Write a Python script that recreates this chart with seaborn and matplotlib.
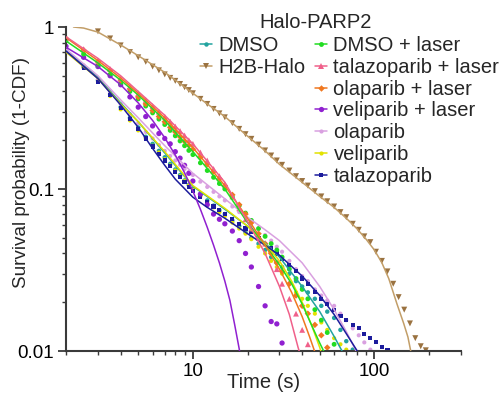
import numpy as np
import pandas as pd
import matplotlib
matplotlib.use('Agg')
import matplotlib.pyplot as plt
import seaborn as sns
from matplotlib.lines import Line2D
from matplotlib.ticker import LogLocator, NullFormatter

nan = np.nan

# time points of the measured survival curves (s)
T = [2, 2.5, 3, 3.5, 4, 4.5, 5, 5.5, 6, 6.5, 7, 7.5, 8, 8.5, 9, 9.5, 10,
     11, 12, 13, 14, 15, 16.5, 18, 19.5, 21, 23, 25, 27, 29, 31, 34, 37, 40,
     43, 47, 51, 55, 60, 65, 70, 76, 82, 88, 95, 102, 110, 118, 127, 136, 146,
     157, 168, 180, 192]

dmso = [0.72, 0.57, 0.47, 0.385, 0.32, 0.275, 0.24, 0.21, 0.19, 0.172, 0.157, 0.143, 0.132, 0.122, 0.113, 0.106, 0.10,
        0.092, 0.085, 0.079, 0.074, 0.07, 0.064, 0.059, 0.054, 0.05, 0.046, 0.042, 0.038, 0.035, 0.033, 0.03, 0.027, 0.025,
        0.023, 0.021, 0.019, 0.0175, 0.016, 0.0135, 0.0115, 0.0102]
h2b = [nan, nan, 0.94, 0.85, 0.77, 0.70, 0.65, 0.61, 0.57, 0.54, 0.51, 0.485, 0.465, 0.445, 0.425, 0.408, 0.39,
       0.36, 0.335, 0.312, 0.293, 0.277, 0.255, 0.235, 0.218, 0.204, 0.188, 0.173, 0.161, 0.15, 0.141, 0.13, 0.12, 0.112,
       0.105, 0.097, 0.09, 0.084, 0.078, 0.072, 0.067, 0.061, 0.056, 0.051, 0.047, 0.041, 0.036, 0.031, 0.026, 0.0215, 0.018,
       0.0148, 0.012, 0.0107, 0.0101]
dmso_laser = [0.82, 0.68, 0.58, 0.51, 0.45, 0.40, 0.36, 0.325, 0.295, 0.27, 0.25, 0.23, 0.213, 0.198, 0.185, 0.173, 0.163,
              0.145, 0.13, 0.118, 0.108, 0.1, 0.089, 0.079, 0.071, 0.064, 0.057, 0.051, 0.046, 0.042, 0.038, 0.032, 0.028, 0.024,
              0.021, 0.018, 0.0155, 0.013, 0.011]
tala_laser = [0.86, 0.73, 0.62, 0.55, 0.48, 0.43, 0.39, 0.355, 0.325, 0.30, 0.28, 0.26, 0.243, 0.228, 0.214, 0.2, 0.19,
              0.168, 0.15, 0.133, 0.12, 0.107, 0.09, 0.076, 0.065, 0.057, 0.05, 0.046, 0.042, 0.032, 0.026, 0.021, 0.017, 0.0135,
              0.011]
ola_laser = [0.85, 0.72, 0.61, 0.54, 0.47, 0.415, 0.37, 0.335, 0.305, 0.28, 0.26, 0.24, 0.225, 0.21, 0.197, 0.186, 0.176,
             0.157, 0.142, 0.128, 0.116, 0.105, 0.092, 0.08, 0.07, 0.062, 0.053, 0.046, 0.04, 0.035, 0.031, 0.026, 0.022, 0.019,
             0.017, 0.0145, 0.0125, 0.0105]
veli_laser = [0.76, 0.65, 0.57, 0.50, 0.44, 0.37, 0.32, 0.28, 0.245, 0.22, 0.205, 0.19, 0.17, 0.155, 0.14, 0.125, 0.112,
              0.093, 0.08, 0.07, 0.065, 0.061, 0.055, 0.048, 0.04, 0.033, 0.025, 0.019, 0.0152, 0.0147, 0.0112]
olaparib = [0.73, 0.58, 0.48, 0.40, 0.335, 0.29, 0.255, 0.225, 0.205, 0.187, 0.172, 0.16, 0.15, 0.141, 0.133, 0.127, 0.122,
            0.111, 0.103, 0.096, 0.09, 0.085, 0.078, 0.072, 0.067, 0.062, 0.057, 0.052, 0.048, 0.044, 0.041, 0.036, 0.032, 0.029,
            0.027, 0.024, 0.022, 0.0205, 0.019, 0.017, 0.0155, 0.0138, 0.0125, 0.0113, 0.0102]
veliparib = [0.70, 0.56, 0.46, 0.375, 0.31, 0.265, 0.23, 0.205, 0.185, 0.168, 0.153, 0.14, 0.13, 0.12, 0.112, 0.105, 0.099,
             0.09, 0.083, 0.077, 0.072, 0.068, 0.062, 0.057, 0.053, 0.049, 0.044, 0.04, 0.036, 0.033, 0.03, 0.026, 0.023, 0.021,
             0.019, 0.017, 0.015, 0.0135, 0.012, 0.011, 0.0102]
talazoparib = [0.70, 0.56, 0.46, 0.38, 0.315, 0.27, 0.235, 0.205, 0.183, 0.165, 0.15, 0.138, 0.127, 0.118, 0.11, 0.103, 0.097,
               0.089, 0.083, 0.078, 0.074, 0.07, 0.065, 0.061, 0.057, 0.054, 0.05, 0.046, 0.043, 0.04, 0.037, 0.034, 0.031, 0.028,
               0.026, 0.023, 0.021, 0.0195, 0.018, 0.0165, 0.0155, 0.0145, 0.0138, 0.0128, 0.012, 0.0113, 0.0106, 0.0101]

# fitted curves
fit_dmso_t = [2, 3, 4, 5, 7, 10, 15, 20, 30, 40, 50, 60, 66, 70]
fit_dmso = [0.72, 0.49, 0.34, 0.26, 0.167, 0.104, 0.075, 0.059, 0.038, 0.025, 0.0175, 0.0123, 0.0101, 0.0087]
fit_h2b_t = [2.2, 2.5, 3, 4, 5, 6, 7, 8, 10, 12, 15, 20, 25, 30, 40, 50, 60, 70, 80, 90, 100, 110, 120, 133, 145, 153, 158, 163]
fit_h2b = [1.0, 0.985, 0.93, 0.775, 0.665, 0.585, 0.525, 0.47, 0.39, 0.335, 0.28, 0.212, 0.172, 0.142, 0.11, 0.09,
           0.077, 0.066, 0.057, 0.049, 0.042, 0.035, 0.028, 0.0196, 0.0148, 0.0122, 0.0102, 0.0082]
fit_dmso_laser_t = [2, 3, 4, 5, 7, 10, 15, 20, 25, 30, 35, 40, 45, 50, 53, 56]
fit_dmso_laser = [0.82, 0.60, 0.47, 0.38, 0.265, 0.17, 0.1, 0.062, 0.045, 0.034, 0.026, 0.0195, 0.0145, 0.0112, 0.0098, 0.0086]
fit_tala_laser_t = [2, 3, 4, 5, 7, 10, 15, 20, 25, 30, 34, 38, 41]
fit_tala_laser = [0.87, 0.64, 0.5, 0.4, 0.285, 0.19, 0.11, 0.063, 0.04, 0.025, 0.0168, 0.0105, 0.008]
fit_ola_laser_t = [2, 3, 4, 5, 7, 10, 15, 20, 25, 30, 35, 40, 44, 48]
fit_ola_laser = [0.86, 0.62, 0.485, 0.39, 0.275, 0.18, 0.105, 0.066, 0.045, 0.032, 0.023, 0.0163, 0.0122, 0.0092]
fit_veli_laser_t = [2, 3, 4, 5, 6, 7, 8, 9, 10, 11, 12, 13, 14, 15, 16, 17, 18, 19]
fit_veli_laser = [0.75, 0.57, 0.44, 0.34, 0.265, 0.207, 0.162, 0.126, 0.097, 0.075, 0.058, 0.045, 0.035, 0.027,
                  0.0205, 0.0145, 0.0103, 0.007]
fit_olaparib_t = [2, 3, 4, 5, 7, 10, 15, 20, 25, 30, 40, 50, 60, 70, 80, 85]
fit_olaparib = [0.73, 0.50, 0.355, 0.275, 0.185, 0.125, 0.087, 0.067, 0.056, 0.048, 0.035, 0.025, 0.018, 0.0132, 0.0098, 0.0083]
fit_veliparib_t = [2, 3, 4, 5, 7, 10, 15, 20, 25, 30, 35, 40, 45, 50, 53]
fit_veliparib = [0.70, 0.48, 0.335, 0.26, 0.17, 0.105, 0.076, 0.059, 0.046, 0.036, 0.027, 0.02, 0.0145, 0.0105, 0.0085]
fit_talazoparib_t = [2, 3, 4, 5, 6, 7, 8, 10, 12, 15, 20, 25, 30, 40, 50, 60, 70, 80, 86]
fit_talazoparib = [0.71, 0.48, 0.33, 0.24, 0.178, 0.14, 0.115, 0.089, 0.077, 0.066, 0.053, 0.045, 0.039, 0.029,
                   0.022, 0.0168, 0.0128, 0.0101, 0.0085]

# name, data, fit t, fit values, marker colour, line colour, marker, marker size
series = [
    ('DMSO', dmso, fit_dmso_t, fit_dmso, '#22A39F', '#22A39F', 'o', 3.2),
    ('H2B-Halo', h2b, fit_h2b_t, fit_h2b, '#9A7240', '#C29E68', 'v', 4.3),
    ('DMSO + laser', dmso_laser, fit_dmso_laser_t, fit_dmso_laser, '#22DD22', '#22DD22', 'o', 3.5),
    ('talazoparib + laser', tala_laser, fit_tala_laser_t, fit_tala_laser, '#F0608A', '#F0608A', '^', 4.2),
    ('olaparib + laser', ola_laser, fit_ola_laser_t, fit_ola_laser, '#F07820', '#F07820', 'D', 3.3),
    ('veliparib + laser', veli_laser, fit_veli_laser_t, fit_veli_laser, '#9020D0', '#9020D0', 'o', 3.8),
    ('olaparib', olaparib, fit_olaparib_t, fit_olaparib, '#D9A0E0', '#D9A0E0', 'o', 3.0),
    ('veliparib', veliparib, fit_veliparib_t, fit_veliparib, '#E2E200', '#E2E200', 'o', 3.0),
    ('talazoparib', talazoparib, fit_talazoparib_t, fit_talazoparib, '#1C1C9C', '#1C1C9C', 's', 3.0),
]
draw_order = [1, 0, 6, 7, 8, 5, 2, 4, 3]

sns.set_style('ticks')
plt.rcParams['font.family'] = ['Liberation Sans', 'DejaVu Sans']
fs = 14.5

fig = plt.figure(figsize=(5.03, 3.94), dpi=100)
ax = fig.add_axes([66 / 503, 1 - 351 / 394, 395 / 503, 324 / 394])
ax.set_xscale('log')
ax.set_yscale('log')

for i in draw_order:
    name, vals, ft, fv, mcol, lcol, mk, ms = series[i]
    t = np.array(T[:len(vals)], dtype=float)
    s = np.array(vals, dtype=float)
    ok = ~np.isnan(s)
    sns.scatterplot(x=t[ok], y=s[ok], ax=ax, color=mcol, marker=mk, s=ms ** 2,
                    edgecolor='none', linewidth=0, zorder=2, legend=False)
for i in draw_order:
    name, vals, ft, fv, mcol, lcol, mk, ms = series[i]
    sns.lineplot(x=ft, y=fv, ax=ax, color=lcol, lw=1.1, sort=False,
                 estimator=None, zorder=3, legend=False)

ax.set_xlim(2, 300)
ax.set_ylim(0.01, 1)
ax.set_xticks([10, 100])
ax.set_xticklabels(['10', '100'])
ax.set_yticks([0.01, 0.1, 1])
ax.set_yticklabels(['0.01', '0.1', '1'])
ax.xaxis.set_minor_locator(LogLocator(base=10, subs=np.arange(2, 10), numticks=20))
ax.yaxis.set_minor_locator(LogLocator(base=10, subs=np.arange(2, 10), numticks=20))
ax.xaxis.set_minor_formatter(NullFormatter())
ax.yaxis.set_minor_formatter(NullFormatter())

spine_col = '#3a3a3a'
for side in ['top', 'right']:
    ax.spines[side].set_visible(False)
for side in ['left', 'bottom']:
    ax.spines[side].set_linewidth(1.5)
    ax.spines[side].set_color(spine_col)
ax.tick_params(which='major', direction='out', length=6, width=1.3, color=spine_col,
               labelsize=13.6, pad=2.5, labelcolor='black')
ax.tick_params(which='minor', direction='out', length=3, width=1.0, color=spine_col)

ax.set_xlabel('Time (s)', fontsize=fs, labelpad=-5)
ax.set_ylabel('Survival probability (1-CDF)', fontsize=13.6)
ax.yaxis.set_label_coords(-0.091, 0.552)

# legend: two entries in the first column, seven in the second
handles, labels = [], []
for i in range(len(series)):
    name, vals, ft, fv, mcol, lcol, mk, ms = series[i]
    handles.append(Line2D([0], [0], color=lcol, lw=1.1, marker=mk, markersize=ms,
                          markerfacecolor=mcol, markeredgewidth=0))
    labels.append(name)
blank = Line2D([], [], color='none', lw=0)
leg_h = handles[:2] + [blank] * 5 + handles[2:]
leg_l = labels[:2] + [''] * 5 + labels[2:]
fig.legend(leg_h, leg_l, loc='upper left', bbox_to_anchor=(200 / 503, 1 - 36 / 394),
           ncol=2, frameon=False, fontsize=fs, handlelength=0.6, handletextpad=0.3,
           columnspacing=0.5, labelspacing=0.14, borderpad=0, borderaxespad=0)
fig.text(316 / 503, 1 - 22 / 394, 'Halo-PARP2', ha='center', va='center', fontsize=fs)

fig.savefig('out.png', dpi=100)
